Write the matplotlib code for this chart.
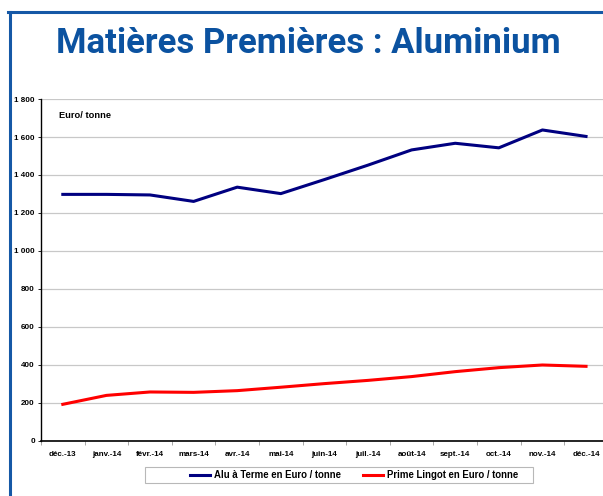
import matplotlib.pyplot as plt
from matplotlib.lines import Line2D
from matplotlib.patches import Rectangle
import numpy as np

months = ["déc.-13", "janv.-14", "févr.-14", "mars-14", "avr.-14", "mai-14", "juin-14",
          "juil.-14", "août-14", "sept.-14", "oct.-14", "nov.-14", "déc.-14"]
alu_terme = [1298, 1298, 1295, 1261, 1336, 1302, 1376, 1452, 1532, 1567, 1543, 1637, 1603]
prime_lingot = [193, 240, 258, 256, 265, 283, 302, 319, 339, 365, 386, 400, 393]
yticks = [0, 200, 400, 600, 800, 1000, 1200, 1400, 1600, 1800]
ytick_labels = ["0", "200", "400", "600", "800", "1 000", "1 200", "1 400", "1 600", "1 800"]

frame_blue = "#1558a6"
title_blue = "#0b52a0"
tick_font = "Liberation Sans"

fig = plt.figure(figsize=(6.03, 4.96), dpi=100)

# blue frame (top + left)
fig.add_artist(Line2D([0.013, 1.0], [0.976, 0.976], color=frame_blue, lw=2.2,
                      transform=fig.transFigure))
fig.add_artist(Line2D([0.0165, 0.0165], [0.0, 0.976], color=frame_blue, lw=2.2,
                      transform=fig.transFigure))

fig.text(0.512, 0.912, "Matières Premières : Aluminium", ha="center", va="center",
         fontsize=25, fontweight="bold", color=title_blue, family="Roboto")

ax = fig.add_axes([0.068, 0.1109, 0.94, 0.6895])
x = np.arange(len(months))
ax.plot(x, alu_terme, color="#000080", lw=2.2, label="Alu à Terme en Euro / tonne")
ax.plot(x, prime_lingot, color="#ff0000", lw=2.2, label="Prime Lingot en Euro / tonne")

ax.set_xlim(-0.5, len(months) - 0.5)
ax.set_ylim(0, 1800)
ax.set_yticks(yticks)
ax.set_yticklabels(ytick_labels)
ax.set_xticks(x)
ax.set_xticklabels(months)
ax.set_xticks(np.arange(len(months) + 1) - 0.5, minor=True)
ax.tick_params(axis="x", which="major", length=0, pad=7, labelsize=5.8)
ax.tick_params(axis="x", which="minor", length=3, color="#999999")
ax.tick_params(axis="y", length=2, width=0.6, labelsize=5.8, pad=2.5)
for lab in ax.get_xticklabels() + ax.get_yticklabels():
    lab.set_fontweight("bold")
    lab.set_family(tick_font)

ax.grid(axis="y", color="#c8c8c8", lw=0.9)
ax.set_axisbelow(True)
for side in ("top", "right"):
    ax.spines[side].set_visible(False)
ax.spines["left"].set_linewidth(1.0)
ax.spines["bottom"].set_linewidth(1.2)

ax.text(0.031, 0.965, "Euro/ tonne", transform=ax.transAxes, fontsize=6.7,
        fontweight="bold", va="top", ha="left", family="Liberation Sans")

# legend box drawn separately (content sits off-centre in the original)
fig.add_artist(Rectangle((145 / 603, 1 - 483 / 496), 388 / 603, 16 / 496,
                         transform=fig.transFigure, fill=False, edgecolor="#b8b8b8", lw=0.8))
fig.legend(loc="center left", bbox_to_anchor=(190 / 603, 1 - 475 / 496), ncol=2,
           frameon=False, handlelength=2.1, handletextpad=0.45, columnspacing=2.2,
           borderpad=0.0, borderaxespad=0.0,
           prop={"weight": "bold", "family": "Liberation Sans", "size": 6.9})

fig.savefig("out.png", dpi=100)
